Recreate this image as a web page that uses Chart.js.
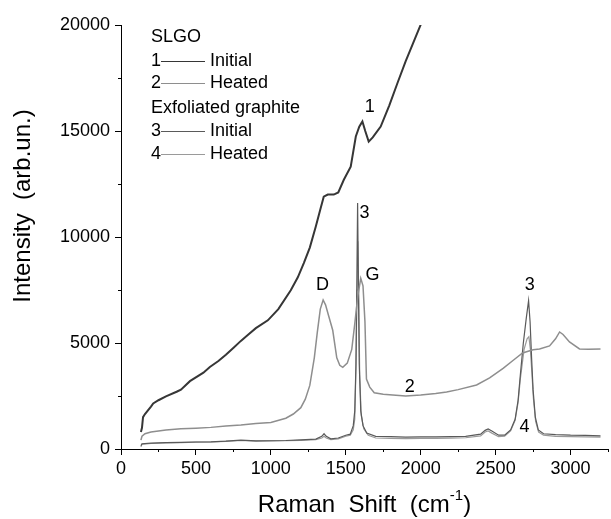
<!DOCTYPE html>
<html>
<head>
<meta charset="utf-8">
<script src="https://cdn.jsdelivr.net/npm/chart.js@4.4.1/dist/chart.umd.min.js"></script>
<style>
    body { margin: 0; background: #ffffff; }
    #wrap { width: 611px; height: 519px; }
</style>
</head>
<body>
<div id="wrap"><canvas id="ramanChart" width="611" height="519"></canvas></div>
<script>
// curve 1: SLGO, initial
const slgoInitialShift = [133, 140, 147, 160, 200, 215, 250, 300, 371, 400, 460, 550, 593, 650, 700, 753, 800, 850, 900, 980, 1050, 1133, 1180, 1220, 1260, 1300, 1330, 1353, 1380, 1420, 1450, 1487, 1533, 1567, 1590, 1611, 1630, 1653, 1680, 1733, 1790, 1847, 1900, 1933, 1970, 2005];
const slgoInitialIntensity = [800, 1000, 1500, 1650, 2000, 2150, 2300, 2480, 2700, 2800, 3200, 3600, 3870, 4150, 4450, 4790, 5100, 5400, 5700, 6070, 6600, 7490, 8100, 8770, 9500, 10500, 11300, 11900, 12000, 12000, 12100, 12700, 13320, 14740, 15200, 15450, 15000, 14500, 14700, 15210, 16200, 17300, 18300, 18860, 19500, 20100];

// curve 2: SLGO, heated
const slgoHeatedShift = [133, 140, 160, 200, 300, 400, 500, 600, 700, 800, 900, 1000, 1100, 1150, 1200, 1230, 1260, 1290, 1310, 1330, 1349, 1365, 1385, 1413, 1440, 1460, 1480, 1510, 1540, 1560, 1580, 1600, 1615, 1628, 1638, 1660, 1690, 1750, 1813, 1900, 2000, 2100, 2173, 2250, 2373, 2460, 2550, 2620, 2680, 2750, 2793, 2860, 2900, 2927, 2950, 2993, 3060, 3120, 3200];
const slgoHeatedIntensity = [420, 600, 720, 800, 900, 950, 980, 1020, 1080, 1130, 1200, 1250, 1450, 1650, 1950, 2350, 3000, 4300, 5500, 6600, 7030, 6800, 6300, 5600, 4300, 3950, 3850, 4050, 4700, 5900, 7200, 8050, 7700, 6000, 3300, 2920, 2650, 2580, 2550, 2500, 2550, 2620, 2690, 2800, 3020, 3350, 3800, 4200, 4530, 4680, 4720, 4860, 5200, 5520, 5400, 5050, 4720, 4700, 4720];

// curve 3: exfoliated graphite, initial
const egInitialShift = [133, 140, 200, 300, 400, 500, 600, 700, 800, 900, 1000, 1100, 1200, 1300, 1340, 1355, 1370, 1400, 1450, 1500, 1530, 1550, 1560, 1568, 1574, 1579, 1584, 1590, 1600, 1615, 1640, 1700, 1800, 1900, 2000, 2100, 2200, 2300, 2400, 2430, 2450, 2475, 2520, 2560, 2600, 2630, 2650, 2665, 2685, 2705, 2720, 2730, 2740, 2750, 2765, 2785, 2820, 2900, 3000, 3100, 3200];
const egInitialIntensity = [150, 250, 280, 300, 310, 330, 340, 370, 420, 380, 390, 400, 430, 470, 600, 720, 600, 480, 520, 650, 700, 1100, 1800, 4000, 8000, 11600, 8000, 4000, 1800, 1100, 750, 600, 580, 560, 570, 570, 580, 600, 700, 880, 950, 850, 650, 650, 900, 1400, 2300, 3500, 5000, 6200, 7000, 6000, 4300, 2800, 1500, 900, 720, 680, 650, 640, 620];

// curve 4: exfoliated graphite, heated
const egHeatedShift = [133, 140, 200, 300, 400, 500, 600, 700, 800, 900, 1000, 1100, 1200, 1300, 1340, 1355, 1370, 1400, 1450, 1500, 1530, 1550, 1560, 1568, 1575, 1581, 1587, 1593, 1603, 1620, 1650, 1700, 1800, 1900, 2000, 2100, 2200, 2300, 2400, 2430, 2450, 2475, 2520, 2560, 2600, 2630, 2650, 2665, 2690, 2710, 2722, 2732, 2742, 2752, 2767, 2787, 2820, 2900, 3000, 3100, 3200];
const egHeatedIntensity = [100, 220, 260, 290, 300, 320, 330, 360, 400, 370, 380, 390, 410, 440, 520, 600, 520, 440, 480, 600, 650, 900, 1400, 3800, 7500, 9800, 7000, 3500, 1600, 950, 650, 520, 500, 490, 500, 500, 510, 530, 620, 800, 850, 750, 580, 600, 850, 1350, 2200, 3300, 4700, 5200, 5300, 4700, 3600, 2400, 1300, 800, 650, 600, 580, 570, 560];

const seriesColors = ['#363636', '#8e8e8e', '#5a5a5a', '#9a9a9a'];

// peak labels placed on the data
const annoText = ['1', 'D', 'G', '3', '3', '2', '4'];
const annoShift = [1660, 1345, 1678, 1625, 2727, 1927, 2693];
const annoIntensity = [16150, 7740, 8210, 11130, 7740, 2940, 1050];

// legend block
const legendNums = ['', '1', '2', '', '3', '4'];
const legendTexts = ['SLGO', 'Initial', 'Heated', 'Exfoliated graphite', 'Initial', 'Heated'];
const legendSeries = [-1, 0, 1, -1, 2, 3];

const FONT = '"Liberation Sans", Arial, sans-serif';

const toPoints = (xs, ys) => xs.map((x, i) => ({ x, y: ys[i] }));

const lineSet = (data, color, width) => ({
    data,
    borderColor: color,
    borderWidth: width,
    pointRadius: 0,
    showLine: true,
    tension: 0,
    fill: false,
});

const decorations = {
    id: 'decorations',
    afterDraw(chart) {
        const { ctx, chartArea: area, scales: { x, y } } = chart;
        ctx.save();

        // short minor ticks
        ctx.strokeStyle = '#000';
        ctx.lineWidth = 1;
        ctx.beginPath();
        x.ticks.forEach(t => {
            if (t.value % 500 !== 0) {
                const px = Math.round(x.getPixelForValue(t.value)) + 0.5;
                ctx.moveTo(px, area.bottom);
                ctx.lineTo(px, area.bottom + 3);
            }
        });
        y.ticks.forEach(t => {
            if (t.value % 5000 !== 0) {
                const py = Math.round(y.getPixelForValue(t.value)) + 0.5;
                ctx.moveTo(area.left, py);
                ctx.lineTo(area.left - 3, py);
            }
        });
        ctx.stroke();

        // legend
        ctx.font = '18px ' + FONT;
        ctx.textBaseline = 'middle';
        ctx.fillStyle = '#000';
        const rowY = [37, 61, 83, 108, 131, 154];
        const left = area.left + 30;
        legendTexts.forEach((text, i) => {
            if (legendSeries[i] < 0) {
                ctx.fillText(text, left, rowY[i]);
                return;
            }
            ctx.fillText(legendNums[i], left, rowY[i]);
            ctx.strokeStyle = seriesColors[legendSeries[i]];
            ctx.beginPath();
            ctx.moveTo(left + 10, rowY[i] + 0.5);
            ctx.lineTo(left + 54, rowY[i] + 0.5);
            ctx.stroke();
            ctx.fillText(text, left + 59, rowY[i]);
        });

        // peak labels
        ctx.textAlign = 'center';
        annoText.forEach((text, i) => {
            ctx.fillText(text, x.getPixelForValue(annoShift[i]), y.getPixelForValue(annoIntensity[i]));
        });

        // x title with superscript
        ctx.font = '24px ' + FONT;
        const part1 = 'Raman  Shift  (cm';
        const part3 = ')';
        const supFont = '15px ' + FONT;
        const w1 = ctx.measureText(part1).width;
        const w3 = ctx.measureText(part3).width;
        ctx.font = supFont;
        const w2 = ctx.measureText('-1').width;
        let tx = (area.left + area.right) / 2 - (w1 + w2 + w3) / 2;
        const ty = area.bottom + 56;
        ctx.textAlign = 'left';
        ctx.font = '24px ' + FONT;
        ctx.fillText(part1, tx, ty);
        tx += w1;
        ctx.font = supFont;
        ctx.fillText('-1', tx, ty - 9);
        tx += w2;
        ctx.font = '24px ' + FONT;
        ctx.fillText(part3, tx, ty);

        // y title
        ctx.translate(23, (area.top + area.bottom) / 2 - 31);
        ctx.rotate(-Math.PI / 2);
        ctx.textAlign = 'center';
        ctx.fillText('Intensity  (arb.un.)', 0, 0);

        ctx.restore();
    }
};

Chart.defaults.font.family = FONT;
Chart.defaults.color = '#000';

new Chart(document.getElementById('ramanChart'), {
    type: 'scatter',
    data: {
        datasets: [
            lineSet(toPoints(slgoInitialShift, slgoInitialIntensity), seriesColors[0], 2),
            lineSet(toPoints(slgoHeatedShift, slgoHeatedIntensity), seriesColors[1], 1.5),
            lineSet(toPoints(egInitialShift, egInitialIntensity), seriesColors[2], 1.2),
            lineSet(toPoints(egHeatedShift, egHeatedIntensity), seriesColors[3], 1.2),
        ]
    },
    options: {
        responsive: false,
        animation: false,
        events: [],
        layout: { padding: { left: 0, top: 25, right: 3, bottom: 0 } },
        plugins: {
            legend: { display: false },
            tooltip: { enabled: false },
        },
        scales: {
            x: {
                type: 'linear',
                min: 0,
                max: 3250,
                afterFit: scale => { scale.height = 70; },
                border: { display: true, color: '#000', width: 1 },
                grid: {
                    drawOnChartArea: false,
                    tickLength: 6,
                    tickColor: c => c.tick && c.tick.value % 500 === 0 ? '#000' : 'rgba(0,0,0,0)',
                },
                ticks: {
                    stepSize: 250,
                    autoSkip: false,
                    maxRotation: 0,
                    padding: 3,
                    font: { size: 18 },
                    callback: v => v % 500 === 0 ? v : '',
                }
            },
            y: {
                min: 0,
                max: 20000,
                afterFit: scale => { scale.width = 121; },
                border: { display: true, color: '#000', width: 1 },
                grid: {
                    drawOnChartArea: false,
                    tickLength: 6,
                    tickColor: c => c.tick && c.tick.value % 5000 === 0 ? '#000' : 'rgba(0,0,0,0)',
                },
                ticks: {
                    stepSize: 2500,
                    autoSkip: false,
                    padding: 5,
                    font: { size: 18 },
                    callback: v => v % 5000 === 0 ? v : '',
                }
            }
        }
    },
    plugins: [decorations]
});
</script>
</body>
</html>
